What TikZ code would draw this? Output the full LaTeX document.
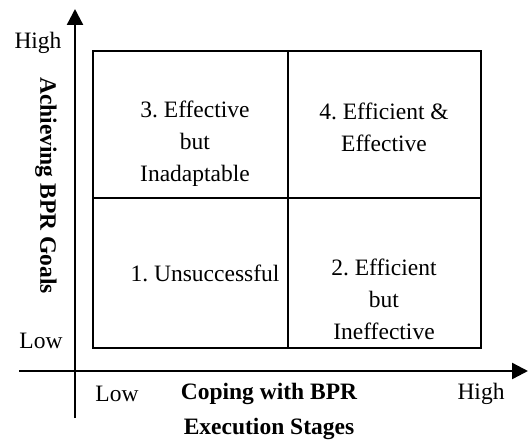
\documentclass[tikz,border=0pt]{standalone}
\usepackage{fontspec}
\setmainfont{Liberation Serif}
\frenchspacing
\usetikzlibrary{arrows.meta}
\begin{document}
\begin{tikzpicture}[x=1pt,y=-1pt,
  axis/.style={line width=2.4pt,-{Triangle[length=16pt,width=16pt]}},
  cell/.style={draw,line width=1.7pt},
  lab/.style={font=\fontsize{23.5}{32}\selectfont,align=center,inner sep=0pt},
  blab/.style={font=\fontsize{23.5}{35}\selectfont\bfseries,align=center,inner sep=0pt}]
\useasboundingbox (0,0) rectangle (528,441);
% axes
\coordinate (yb) at (75,418);
\coordinate (yt) at (75,9);
\coordinate (xl) at (19,371);
\coordinate (xr) at (528,371);
\draw[axis] (yb) -- (yt);
\draw[axis] (xl) -- (xr);
% grid
\draw[cell] (93,51) rectangle (481,348);
\draw[cell] (288,51) -- (288,348);
\draw[cell] (93,198) -- (481,198);
% cell texts
\node[lab] (q3) at (195,144) {3. Effective\\but\\Inadaptable};
\node[lab] (q4) at (384,127.5) {4. Efficient \&\\Effective};
\node[lab] (q1) at (205,273) {1. Unsuccessful};
\node[lab] (q2) at (384,299) {2. Efficient\\but\\Ineffective};
% axis labels
\node[lab] (yh) at (38,43) {High};
\node[lab] (yl) at (41,341) {Low};
\node[lab] (xlo) at (117,394) {Low};
\node[lab] (xhi) at (481,394) {High};
\node[blab] (xt) at (269,411.5) {Coping with BPR\\Execution Stages};
\node[blab,rotate=-90] (yt2) at (46,185.5) {Achieving BPR Goals};
\end{tikzpicture}
\end{document}
